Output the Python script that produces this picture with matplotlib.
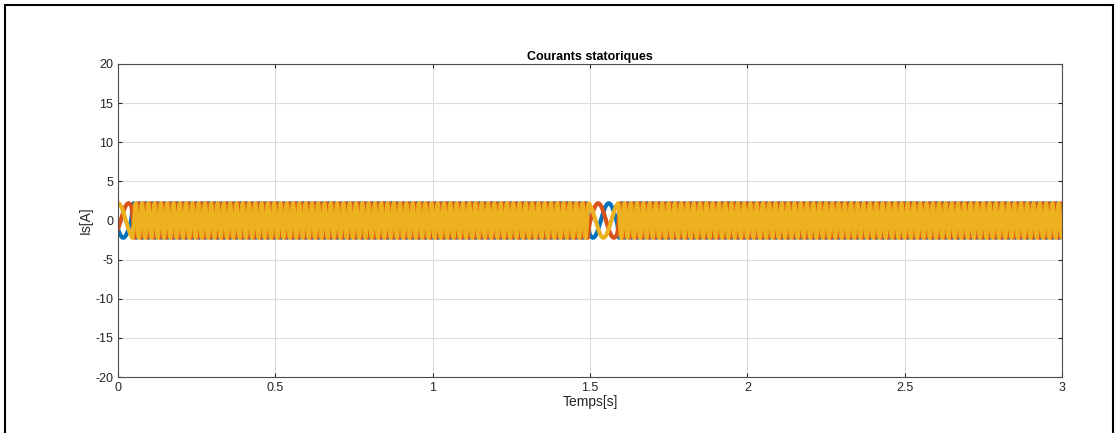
import numpy as np
import matplotlib.pyplot as plt
from matplotlib.patches import Rectangle

plt.rcParams['font.family'] = ['Liberation Sans', 'DejaVu Sans']
plt.rcParams['axes.unicode_minus'] = False

# simulation parameters
t_end = 3.0
amplitude = 2.2
# electrical frequency profile: slow start-up and a slow swing around 1.5 s
freq_t = [0.0, 0.040, 0.050, 1.493, 1.500, 1.585, 1.592, 3.0]
freq_hz = [10.0, 10.0, 50.0, 50.0, 10.0, 10.0, 50.0, 50.0]
t_slow = 1.5425          # middle of the slow swing
phase_shift = [2 * np.pi / 3, -2 * np.pi / 3, 0.0]
phase_names = ['isa', 'isb', 'isc']
colors = ['#0072BD', '#D95319', '#EDB120']

t = np.linspace(0, t_end, 60001)
f = np.interp(t, freq_t, freq_hz)
theta = 2 * np.pi * np.cumsum(f) * (t[1] - t[0]) + np.pi / 2
# phase c at its trough in the middle of the slow swing (shift hidden in the dense band)
late = t > 1.0
theta[late] += -np.pi / 2 - np.interp(t_slow, t, theta)

fig = plt.figure(figsize=(11.19, 4.33), dpi=100)
ax = fig.add_axes([0.1055, 0.1293, 0.8436, 0.7229])

for ph, name, c in zip(phase_shift, phase_names, colors):
    ax.plot(t, amplitude * np.sin(theta + ph), color=c, linewidth=3.0, label=name)

ax.set_xlim(0, 3)
ax.set_ylim(-20, 20)
ax.set_xticks(np.arange(0, 3.01, 0.5))
ax.set_xticklabels(['0', '0.5', '1', '1.5', '2', '2.5', '3'])
ax.set_yticks(np.arange(-20, 21, 5))
ax.grid(True, color='#dcdcdc', linewidth=0.8)
ax.set_axisbelow(True)
for s in ax.spines.values():
    s.set_color('#4d4d4d')
    s.set_linewidth(0.8)
ax.tick_params(direction='in', length=3, labelsize=9, colors='#262626', top=True, right=True,
               labeltop=False, labelright=False)
ax.set_title('Courants statoriques', fontsize=9, fontweight='bold', pad=3)
ax.set_xlabel('Temps[s]', fontsize=10, labelpad=1, color='#262626')
ax.set_ylabel('Is[A]', fontsize=10, labelpad=2, color='#262626')

# screenshot frame
fig.patches.append(Rectangle((5 / 1119, -0.1), 1108 / 1119, 1 - 5 / 433 + 0.1,
                             transform=fig.transFigure, fill=False,
                             edgecolor='black', linewidth=1.5))

fig.savefig('out.png', dpi=100)
